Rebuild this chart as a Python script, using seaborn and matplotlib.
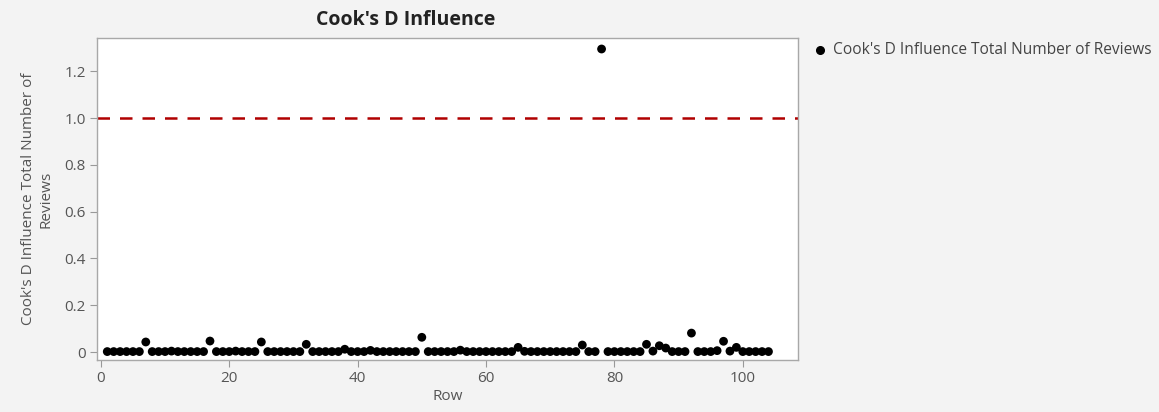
import numpy as np
import pandas as pd
import matplotlib
matplotlib.use("Agg")
import matplotlib.pyplot as plt
import seaborn as sns
from matplotlib.ticker import FuncFormatter

rows = list(range(1, 105))
cooks_d = [
    0.002, 0.002, 0.002, 0.002, 0.002, 0.002, 0.043, 0.002, 0.002, 0.002,
    0.004, 0.002, 0.002, 0.002, 0.002, 0.002, 0.047, 0.002, 0.002, 0.002,
    0.004, 0.002, 0.002, 0.002, 0.043, 0.002, 0.002, 0.002, 0.002, 0.002,
    0.002, 0.033, 0.002, 0.002, 0.002, 0.002, 0.002, 0.012, 0.002, 0.002,
    0.002, 0.007, 0.002, 0.002, 0.002, 0.002, 0.002, 0.002, 0.002, 0.063,
    0.002, 0.002, 0.002, 0.002, 0.002, 0.008, 0.002, 0.002, 0.002, 0.002,
    0.002, 0.002, 0.002, 0.002, 0.020, 0.003, 0.002, 0.002, 0.002, 0.002,
    0.002, 0.002, 0.002, 0.002, 0.030, 0.002, 0.002, 1.295, 0.002, 0.002,
    0.002, 0.002, 0.002, 0.002, 0.033, 0.004, 0.027, 0.017, 0.002, 0.002,
    0.002, 0.081, 0.002, 0.002, 0.002, 0.006, 0.046, 0.004, 0.020, 0.002,
    0.002, 0.002, 0.002, 0.002,
]
series_label = "Cook's D Influence Total Number of Reviews"
title = "Cook's D Influence"
y_label = "Cook's D Influence Total Number of\nReviews"
x_label = "Row"
threshold = 1.0
x_ticks = [0, 20, 40, 60, 80, 100]
y_ticks = [0, 0.2, 0.4, 0.6, 0.8, 1.0, 1.2]

df = pd.DataFrame({"Row": rows, "CooksD": cooks_d})

sns.set_theme(style="white")
plt.rcParams["font.family"] = ["Open Sans", "DejaVu Sans"]

bg = "#f3f3f3"
txt = "#555555"
fig = plt.figure(figsize=(11.59, 4.12), dpi=100, facecolor=bg)
ax = fig.add_axes([97/1159, 1-360/412, (798-97)/1159, (360-38)/412])
ax.set_facecolor("white")

sns.scatterplot(data=df, x="Row", y="CooksD", ax=ax, color="black", s=40,
                edgecolor="none", legend=False)
ax.axhline(threshold, color="#b00000", lw=1.8, ls=(0, (5, 4)))

ax.set_xlim(-0.6, 108.6)
ax.set_ylim(-0.034, 1.342)
ax.set_xticks(x_ticks)
ax.set_yticks(y_ticks)
ax.yaxis.set_major_formatter(FuncFormatter(lambda v, p: "0" if v == 0 else f"{v:.1f}"))
ax.tick_params(axis="both", direction="out", length=5, width=0.8, color="#999999",
               labelsize=11, labelcolor=txt, left=True, bottom=True, pad=3)
for s in ax.spines.values():
    s.set_color("#a8a8a8")
    s.set_linewidth(1.0)

ax.set_xlabel(x_label, fontsize=11, color=txt, labelpad=2)
ax.set_ylabel(y_label, fontsize=11, color=txt, labelpad=8)
fig.text(406/1159, 1-20/412, title, ha="center", va="center", fontsize=14,
         fontweight="bold", color="#222222")

# legend
fig.lines.append(plt.Line2D([820/1159], [1-50/412], marker="o", color="black",
                            markersize=5.5, transform=fig.transFigure, ls=""))
fig.text(833/1159, 1-50/412, series_label, ha="left", va="center", fontsize=11.2,
         color="#444444")

fig.savefig("out.png", dpi=100, facecolor=bg)
